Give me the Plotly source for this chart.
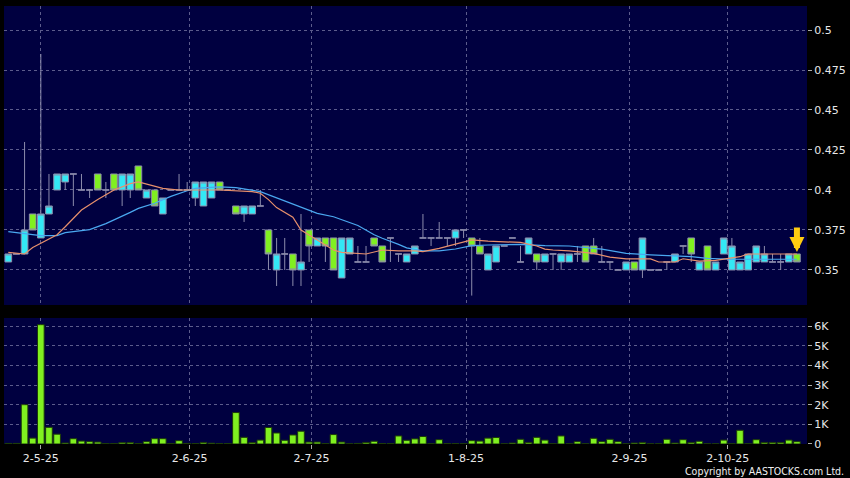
import plotly.graph_objects as go

# bar colours (AASTOCKS style)
NAVY = "#000040"
CYAN = "#33e8f5"
GREEN = "#80f020"
OUTLINE = "#8c8cac"
GRID = "#5c5c8c"
MA_SHORT_C = "#e8906c"
MA_LONG_C = "#4aa8f0"

opens = [0.355, 0.36, 0.36, 0.385, 0.37, 0.385, 0.40, 0.405, 0.41, 0.40,
         0.40, 0.41, 0.40, 0.41, 0.40, 0.40, 0.415, 0.395, 0.40, 0.385,
         0.40, 0.40, 0.40, 0.395, 0.39, 0.395, 0.405, 0.40, 0.39, 0.385,
         0.385, 0.39, 0.375, 0.35, 0.36, 0.36, 0.35, 0.375, 0.365, 0.37,
         0.37, 0.345, 0.36, 0.355, 0.355, 0.37, 0.365, 0.37, 0.36, 0.355,
         0.36, 0.37, 0.37, 0.37, 0.37, 0.37, 0.375, 0.37, 0.365, 0.35,
         0.355, 0.365, 0.37, 0.355, 0.36, 0.36, 0.355, 0.36, 0.355, 0.355,
         0.36, 0.365, 0.365, 0.355, 0.355, 0.35, 0.35, 0.355, 0.35, 0.35,
         0.35, 0.355, 0.355, 0.365, 0.37, 0.35, 0.365, 0.35, 0.36, 0.35,
         0.35, 0.35, 0.355, 0.355, 0.355, 0.355, 0.355, 0.36]
highs = [0.36, 0.36, 0.43, 0.385, 0.485, 0.41, 0.41, 0.41, 0.41, 0.41,
         0.40, 0.41, 0.405, 0.41, 0.41, 0.41, 0.415, 0.40, 0.40, 0.395,
         0.40, 0.41, 0.405, 0.405, 0.405, 0.405, 0.405, 0.40, 0.39, 0.39,
         0.39, 0.40, 0.375, 0.37, 0.37, 0.36, 0.385, 0.375, 0.37, 0.37,
         0.37, 0.37, 0.37, 0.365, 0.365, 0.37, 0.365, 0.37, 0.36, 0.36,
         0.365, 0.385, 0.37, 0.38, 0.37, 0.375, 0.375, 0.37, 0.37, 0.36,
         0.365, 0.365, 0.37, 0.365, 0.37, 0.36, 0.36, 0.36, 0.36, 0.36,
         0.365, 0.365, 0.37, 0.365, 0.355, 0.35, 0.355, 0.355, 0.37, 0.35,
         0.35, 0.355, 0.36, 0.365, 0.37, 0.355, 0.365, 0.355, 0.37, 0.37,
         0.355, 0.36, 0.365, 0.365, 0.36, 0.36, 0.36, 0.36]
lows = [0.355, 0.36, 0.36, 0.375, 0.37, 0.385, 0.40, 0.40, 0.39, 0.40,
        0.395, 0.40, 0.395, 0.40, 0.39, 0.395, 0.40, 0.395, 0.39, 0.385,
        0.40, 0.40, 0.40, 0.39, 0.39, 0.395, 0.40, 0.40, 0.385, 0.38,
        0.385, 0.39, 0.35, 0.34, 0.35, 0.34, 0.34, 0.355, 0.365, 0.355,
        0.35, 0.345, 0.36, 0.355, 0.355, 0.365, 0.355, 0.355, 0.355, 0.355,
        0.36, 0.37, 0.365, 0.37, 0.365, 0.365, 0.37, 0.334, 0.36, 0.35,
        0.355, 0.365, 0.37, 0.355, 0.36, 0.35, 0.355, 0.35, 0.35, 0.355,
        0.355, 0.355, 0.36, 0.355, 0.35, 0.35, 0.35, 0.35, 0.345, 0.35,
        0.35, 0.35, 0.355, 0.36, 0.355, 0.35, 0.35, 0.35, 0.36, 0.35,
        0.35, 0.35, 0.355, 0.355, 0.355, 0.35, 0.355, 0.355]
closes = [0.36, 0.36, 0.375, 0.375, 0.385, 0.39, 0.41, 0.41, 0.41, 0.40,
          0.40, 0.40, 0.40, 0.40, 0.41, 0.41, 0.40, 0.40, 0.39, 0.395,
          0.40, 0.40, 0.40, 0.405, 0.405, 0.405, 0.40, 0.40, 0.385, 0.39,
          0.39, 0.39, 0.36, 0.36, 0.36, 0.35, 0.355, 0.365, 0.37, 0.365,
          0.35, 0.37, 0.37, 0.355, 0.355, 0.365, 0.355, 0.37, 0.36, 0.36,
          0.365, 0.37, 0.37, 0.37, 0.37, 0.375, 0.375, 0.365, 0.36, 0.36,
          0.365, 0.365, 0.37, 0.355, 0.37, 0.355, 0.36, 0.36, 0.36, 0.36,
          0.36, 0.355, 0.36, 0.355, 0.355, 0.35, 0.355, 0.35, 0.37, 0.35,
          0.35, 0.355, 0.36, 0.365, 0.36, 0.355, 0.35, 0.355, 0.37, 0.365,
          0.355, 0.36, 0.365, 0.36, 0.355, 0.355, 0.36, 0.355]

# volume in shares
volumes = [30, 30, 2000, 300, 6070, 850, 500, 50, 270, 150,
           120, 100, 20, 20, 70, 70, 20, 120, 270, 270,
           20, 170, 30, 20, 80, 40, 20, 20, 1600, 340,
           70, 200, 840, 560, 190, 460, 650, 100, 100, 20,
           480, 100, 10, 30, 80, 140, 20, 20, 410, 190,
           260, 380, 10, 220, 20, 20, 10, 170, 150, 300,
           330, 10, 50, 240, 80, 340, 200, 10, 410, 10,
           120, 10, 290, 120, 240, 120, 10, 50, 80, 10,
           10, 240, 50, 220, 80, 140, 10, 10, 200, 10,
           700, 10, 220, 80, 80, 80, 200, 120]

# moving averages (bar index, price)
ma_short_x = [0, 2, 3, 5, 6, 7, 9, 11, 13, 15, 16, 19, 21, 26, 30, 31, 32, 33,
              35, 36, 37, 38, 40, 41, 44, 46, 48, 50, 51, 53, 55, 57, 59, 61,
              63, 65, 66, 67, 69, 72, 74, 76, 79, 80, 82, 83, 85, 87, 90, 91, 97]
ma_short = [0.361, 0.36, 0.364, 0.369, 0.372, 0.377, 0.3875, 0.394, 0.40, 0.404,
            0.405, 0.401, 0.40, 0.40, 0.399, 0.398, 0.394, 0.389, 0.383, 0.375,
            0.372, 0.369, 0.3625, 0.361, 0.36, 0.3625, 0.362, 0.362, 0.3615,
            0.3635, 0.366, 0.3688, 0.368, 0.3677, 0.3672, 0.365, 0.363, 0.3625,
            0.362, 0.3604, 0.358, 0.357, 0.3569, 0.355, 0.355, 0.357, 0.3555,
            0.356, 0.3583, 0.36, 0.36]
ma_long_x = [0, 2, 4, 6, 7, 10, 12, 15, 16, 18, 20, 22, 23, 26, 28, 31, 32, 33,
             35, 37, 38, 40, 42, 43, 45, 46, 48, 49, 51, 53, 55, 57, 59, 63, 66,
             69, 73, 76, 79, 84, 86, 89, 97]
ma_long = [0.374, 0.3728, 0.3715, 0.3715, 0.3733, 0.3752, 0.379, 0.386, 0.3885,
           0.3917, 0.396, 0.3995, 0.401, 0.402, 0.4015, 0.399, 0.397, 0.395,
           0.391, 0.387, 0.3854, 0.3833, 0.3795, 0.3778, 0.372, 0.3698, 0.366,
           0.3638, 0.362, 0.362, 0.3631, 0.3652, 0.3656, 0.366, 0.3652, 0.365,
           0.363, 0.3604, 0.3595, 0.3583, 0.3573, 0.3567, 0.3567]

tick_pos = [4.0, 22.3, 37.3, 56.3, 76.4, 88.5]
tick_labels = ["2-5-25", "2-6-25", "2-7-25", "1-8-25", "2-9-25", "2-10-25"]
price_ticks = [0.35, 0.375, 0.4, 0.425, 0.45, 0.475, 0.5]
vol_ticks = [0, 1000, 2000, 3000, 4000, 5000, 6000]
vol_labels = ["0", "1K", "2K", "3K", "4K", "5K", "6K"]

idx = list(range(len(closes)))


def candle_trace(sel, fill):
    return go.Candlestick(
        x=[idx[i] for i in sel],
        open=[opens[i] for i in sel],
        high=[highs[i] for i in sel],
        low=[lows[i] for i in sel],
        close=[closes[i] for i in sel],
        increasing=dict(fillcolor=fill, line=dict(color=OUTLINE, width=1)),
        decreasing=dict(fillcolor=fill, line=dict(color=OUTLINE, width=1)),
        whiskerwidth=0,
        hoverinfo="skip",
        showlegend=False,
        xaxis="x", yaxis="y",
    )


up = [i for i in idx if closes[i] > opens[i]]
down = [i for i in idx if closes[i] < opens[i]]
flat = [i for i in idx if closes[i] == opens[i]]

fig = go.Figure()
fig.add_trace(candle_trace(flat, OUTLINE))
fig.add_trace(candle_trace(up, CYAN))
fig.add_trace(candle_trace(down, GREEN))
fig.add_trace(go.Scatter(x=ma_long_x, y=ma_long, mode="lines", line=dict(color=MA_LONG_C, width=1.2),
                         showlegend=False, hoverinfo="skip", xaxis="x", yaxis="y"))
fig.add_trace(go.Scatter(x=ma_short_x, y=ma_short, mode="lines", line=dict(color=MA_SHORT_C, width=1.2),
                         showlegend=False, hoverinfo="skip", xaxis="x", yaxis="y"))
fig.add_trace(go.Bar(x=idx, y=volumes, marker=dict(color=GREEN, line=dict(color="#1c3a08", width=1)),
                     showlegend=False, hoverinfo="skip", xaxis="x2", yaxis="y2"))

font = dict(family="DejaVu Sans", size=11, color="#e8e8e8")
xcommon = dict(range=[-0.53, 98.24], tickvals=tick_pos, showgrid=True, gridcolor=GRID,
               griddash="dot", gridwidth=1, zeroline=False, showline=False)

fig.update_layout(
    width=850, height=478,
    margin=dict(l=4, r=43, t=6, b=34),
    paper_bgcolor="black", plot_bgcolor=NAVY,
    font=font,
    boxgap=0.18,
    boxgroupgap=0,
    bargap=0.18,
    xaxis=dict(xcommon, domain=[0, 1], anchor="y", showticklabels=False, ticks="",
               rangeslider=dict(visible=False)),
    xaxis2=dict(xcommon, domain=[0, 1], anchor="y2", matches="x", ticktext=tick_labels,
                ticks="outside", ticklen=4, tickcolor="#aaaaaa", tickfont=font),
    yaxis=dict(domain=[0.3174, 1], range=[0.328125, 0.515], side="right", tickvals=price_ticks,
               ticks="outside", ticklen=4, tickcolor="#aaaaaa", showgrid=True, gridcolor=GRID,
               griddash="dot", zeroline=False, tickfont=font),
    yaxis2=dict(domain=[0, 0.2877], range=[0, 6410], side="right", tickvals=vol_ticks,
                ticktext=vol_labels, ticks="outside", ticklen=4, tickcolor="#aaaaaa",
                showgrid=True, gridcolor=GRID, griddash="dot", zeroline=False, tickfont=font),
)

# last-price marker
fig.add_annotation(x=idx[-1], y=0.3613, xref="x", yref="y", text="", showarrow=True,
                   arrowhead=2, arrowsize=0.5, arrowwidth=6, arrowcolor="#ffcc10", ax=0, ay=-26)

fig.add_annotation(x=1.0486, y=-0.0616, xref="paper", yref="paper", xanchor="right", yanchor="middle",
                   text="Copyright by AASTOCKS.com Ltd.", showarrow=False,
                   font=dict(family="DejaVu Sans Condensed, DejaVu Sans", size=10.5, color="#f0f0f0"))

# page body has a default 8px margin; drop it so the chart sits at the window corner
fig.write_html("out.html", config={"displayModeBar": False},
               post_script="document.body.style.margin='0';")
